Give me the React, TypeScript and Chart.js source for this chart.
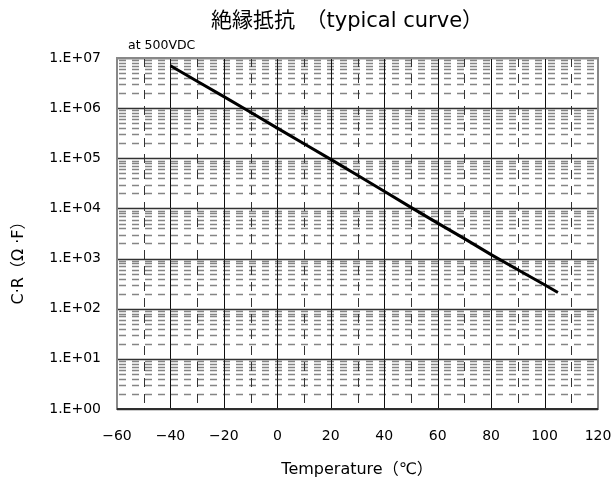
import React, { useEffect, useRef } from "react";
import { Chart, registerables } from "chart.js";

Chart.register(...registerables);

// ---- data ----
const temperatures = [-40, -30, -20, -10, 0, 10, 20, 30, 40, 50, 60, 70, 80, 90, 100, 105];
const crValues = [7.0e6, 3.45e6, 1.7e6, 8.3e5, 4.0e5, 1.95e5, 9.5e4, 4.6e4, 2.2e4, 1.05e4, 5.1e3, 2.5e3, 1.2e3, 600, 300, 210];
const xMajorTicks = [-60, -40, -20, 0, 20, 40, 60, 80, 100, 120];
const xMinorTicks = [-50, -30, -10, 10, 30, 50, 70, 90, 110];
const yDecades = [1, 10, 100, 1e3, 1e4, 1e5, 1e6, 1e7];
const yTickLabels = ["1.E+00", "1.E+01", "1.E+02", "1.E+03", "1.E+04", "1.E+05", "1.E+06", "1.E+07"];
const yMinorMultipliers = [2, 3, 4, 5, 6, 7, 8, 9];
const titleText = "絶縁抵抗　（typical curve）";
const noteText = "at 500VDC";
const xTitle = "Temperature（℃）";
const yTitle = "C·R（Ω ·F）";

const FONT = '"DejaVu Sans", "Noto Sans CJK JP", sans-serif';

const gridPlugin = {
  id: "customGrid",
  beforeDatasetsDraw(chart: any) {
    const { ctx, chartArea } = chart;
    const xs = chart.scales.x;
    const ys = chart.scales.y;
    const { left, right, top, bottom } = chartArea;
    ctx.save();
    // horizontal minor dashed
    ctx.strokeStyle = "#858585";
    ctx.lineWidth = 1.4;
    ctx.setLineDash([7, 6]);
    ctx.lineDashOffset = -2;
    for (let i = 0; i < yDecades.length - 1; i++) {
      for (const m of yMinorMultipliers) {
        const y = Math.round(ys.getPixelForValue(yDecades[i] * m)) + 0.5;
        ctx.beginPath();
        ctx.moveTo(left, y);
        ctx.lineTo(right, y);
        ctx.stroke();
      }
    }
    // vertical minor dashed
    ctx.strokeStyle = "#333";
    ctx.lineWidth = 1;
    ctx.setLineDash([9, 7]);
    ctx.lineDashOffset = 0;
    for (const v of xMinorTicks) {
      const x = Math.round(xs.getPixelForValue(v)) + 0.5;
      ctx.beginPath();
      ctx.moveTo(x, top);
      ctx.lineTo(x, bottom);
      ctx.stroke();
    }
    ctx.setLineDash([]);
    // vertical major
    ctx.strokeStyle = "#111";
    ctx.lineWidth = 1;
    for (const v of xMajorTicks) {
      const x = Math.round(xs.getPixelForValue(v)) + 0.5;
      ctx.beginPath();
      ctx.moveTo(x, top);
      ctx.lineTo(x, bottom);
      ctx.stroke();
    }
    // horizontal major
    ctx.strokeStyle = "#333";
    ctx.lineWidth = 1.3;
    for (const d of yDecades) {
      const y = Math.round(ys.getPixelForValue(d)) + 0.5;
      ctx.beginPath();
      ctx.moveTo(left, y);
      ctx.lineTo(right, y);
      ctx.stroke();
    }
    // frame
    ctx.strokeStyle = "#888";
    ctx.lineWidth = 2;
    ctx.strokeRect(left, top, right - left, bottom - top);
    ctx.strokeStyle = "#111";
    ctx.lineWidth = 1.5;
    ctx.beginPath();
    ctx.moveTo(left, bottom);
    ctx.lineTo(right, bottom);
    ctx.stroke();
    ctx.restore();
  },
  afterDraw(chart: any) {
    const { ctx } = chart;
    ctx.save();
    ctx.fillStyle = "#000";
    ctx.textBaseline = "middle";
    ctx.textAlign = "left";
    ctx.font = `21px ${FONT}`;
    ctx.fillText(titleText, 211, 22);
    ctx.font = `12.5px ${FONT}`;
    ctx.fillText(noteText, 128, 46);
    ctx.font = `16px ${FONT}`;
    ctx.textAlign = "center";
    ctx.fillText(xTitle, 357, 470);
    ctx.translate(19, 259);
    ctx.rotate(-Math.PI / 2);
    ctx.fillText(yTitle, 0, 0);
    ctx.restore();
  },
};

export default function App() {
  const ref = useRef<HTMLCanvasElement | null>(null);
  useEffect(() => {
    if (!ref.current) return;
    const chart = new Chart(ref.current, {
      type: "line",
      data: {
        datasets: [
          {
            data: temperatures.map((t, i) => ({ x: t, y: crValues[i] })),
            borderColor: "#000",
            borderWidth: 3,
            pointRadius: 0,
            tension: 0,
            fill: false,
          },
        ],
      },
      options: {
        animation: false,
        responsive: true,
        maintainAspectRatio: false,
        layout: { padding: { left: 0, right: 16, top: 58, bottom: 0 } },
        plugins: { legend: { display: false }, title: { display: false }, tooltip: { enabled: false } },
        scales: {
          x: {
            type: "linear",
            min: -60,
            max: 120,
            afterFit: (s: any) => {
              s.height = 74;
              s.paddingLeft = 0;
              s.paddingRight = 0;
            },
            afterBuildTicks: (s: any) => {
              s.ticks = xMajorTicks.map((v) => ({ value: v }));
            },
            ticks: {
              padding: 19,
              autoSkip: false,
              maxRotation: 0,
              color: "#000",
              font: { family: FONT, size: 14 },
              callback: (v: any) => (Number(v) < 0 ? "−" + Math.abs(Number(v)) : String(v)),
            },
            grid: { display: false, drawTicks: false },
            border: { display: false },
          },
          y: {
            type: "logarithmic",
            min: 1,
            max: 1e7,
            afterFit: (s: any) => {
              s.width = 117;
              s.paddingTop = 0;
              s.paddingBottom = 0;
            },
            afterBuildTicks: (s: any) => {
              s.ticks = yDecades.map((v) => ({ value: v }));
            },
            ticks: {
              padding: 16,
              autoSkip: false,
              color: "#000",
              font: { family: FONT, size: 14 },
              callback: (v: any) => {
                const idx = yDecades.findIndex((d) => Math.abs(d - Number(v)) < d * 1e-6);
                return idx >= 0 ? yTickLabels[idx] : "";
              },
            },
            grid: { display: false, drawTicks: false },
            border: { display: false },
          },
        },
      },
      plugins: [gridPlugin],
    } as any);
    return () => chart.destroy();
  }, []);
  return (
    <div style={{ position: "fixed", left: 0, top: 0, width: 614, height: 483, background: "#fff" }}>
      <canvas ref={ref} />
    </div>
  );
}
